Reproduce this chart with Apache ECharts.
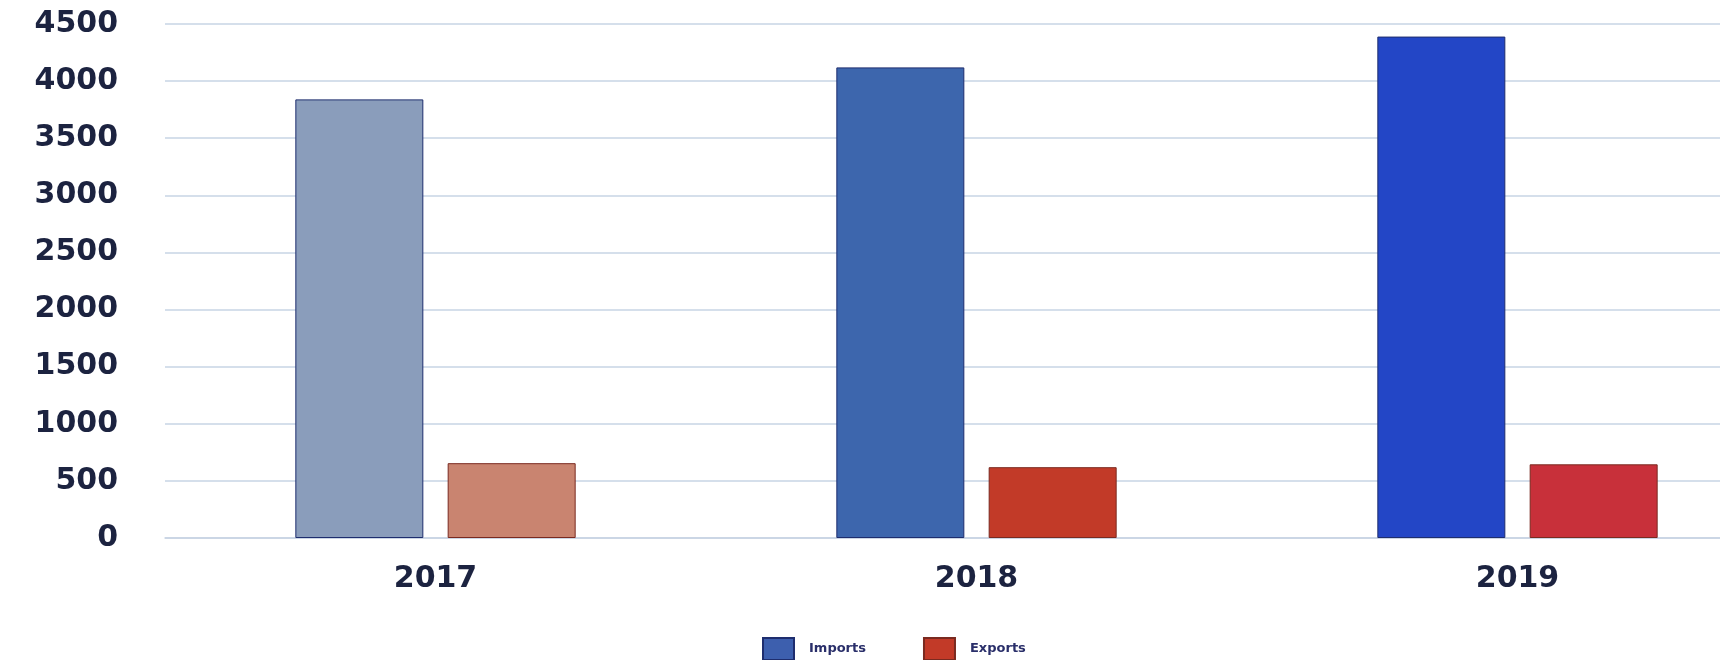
<!DOCTYPE html>
<html>
<head>
<meta charset="utf-8">
<script src="https://cdn.jsdelivr.net/npm/echarts@6/dist/echarts.min.js"></script>
<style>html,body{margin:0;padding:0;background:#fff}#c{width:1720px;height:660px}</style>
</head>
<body>
<div id="c"></div>
<script>
const categories = ['2017', '2018', '2019'];
const imports = [3840, 4120, 4390];
const exports_ = [655, 620, 645];
const yTicks = [0, 500, 1000, 1500, 2000, 2500, 3000, 3500, 4000, 4500];

const importColors = ['#8a9dbb', '#3d66ad', '#2346c6'];
const exportColors = ['#c98470', '#c23a28', '#c8303a'];

const chart = echarts.init(document.getElementById('c'));
chart.setOption({
  backgroundColor: '#ffffff',
  animation: false,
  grid: { left: 165, width: 1623, top: 24, bottom: 122, containLabel: false, outerBoundsMode: 'none' },
  legend: {
    left: 757, top: 632,
    icon: 'rect',
    itemWidth: 31, itemHeight: 22, itemGap: 57,
    textStyle: { fontFamily: 'DejaVu Sans', fontSize: 13, fontWeight: 'bold', color: '#2a2f6a', padding: [0, 0, 0, 10] },
    data: [
      { name: 'Imports', itemStyle: { color: '#3d5fae' } },
      { name: 'Exports', itemStyle: { color: '#c23a28' } }
    ]
  },
  xAxis: {
    type: 'category',
    data: categories,
    axisLine: { show: true, lineStyle: { color: '#c7d4e4', width: 1.5 } },
    axisTick: { show: false },
    axisLabel: { margin: 26, fontFamily: 'DejaVu Sans', fontSize: 30, fontWeight: 'bold', color: '#1c2340' }
  },
  yAxis: {
    type: 'value',
    min: yTicks[0], max: yTicks[yTicks.length - 1], interval: 500,
    axisLine: { show: false },
    axisTick: { show: false },
    splitLine: { lineStyle: { color: '#c7d4e4', width: 1.5 } },
    axisLabel: { margin: 47, fontFamily: 'DejaVu Sans', fontSize: 30, fontWeight: 'bold', color: '#1c2340', formatter: v => String(v) }
  },
  series: [
    {
      name: 'Imports', type: 'bar', data: imports, barWidth: 128, barGap: '19%',
      itemStyle: { color: p => importColors[p.dataIndex], borderColor: '#1e2d6e', borderWidth: 1 }
    },
    {
      name: 'Exports', type: 'bar', data: exports_, barWidth: 128,
      itemStyle: { color: p => exportColors[p.dataIndex], borderColor: '#7a2a20', borderWidth: 1 }
    }
  ]
});
</script>
</body>
</html>
